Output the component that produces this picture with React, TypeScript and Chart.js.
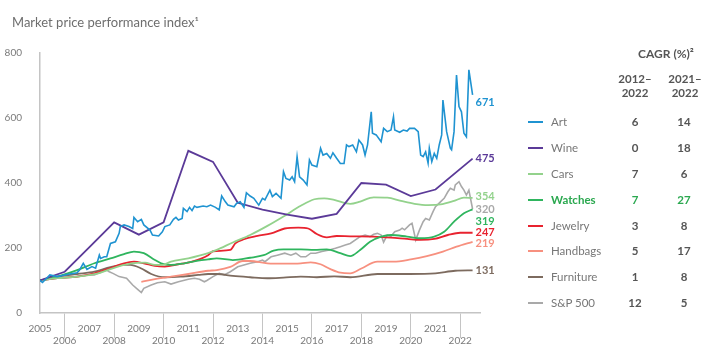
import React, { useEffect, useRef } from "react";
import { Chart, registerables } from "chart.js";

Chart.register(...registerables);

const FONT = "Lato, 'Open Sans', sans-serif";

// ---------- data ----------
const seriesNames = ["Art", "Wine", "Cars", "Watches", "Jewelry", "Handbags", "Furniture", "S&P 500"];
const seriesColors = ["#1f93d1", "#5b3a98", "#93d28c", "#2fb55e", "#e8232f", "#f7907f", "#7d6b5f", "#a9a9a9"];
const cagr2012to2022 = ["6", "0", "7", "7", "3", "5", "1", "12"];
const cagr2021to2022 = ["14", "18", "6", "27", "8", "17", "8", "5"];
const endLabels = ["671", "475", "354", "319", "247", "219", "131", "320"];
const highlighted = "Watches";

const yTickValues = [0, 200, 400, 600, 800];
const xTickYears = [2005, 2006, 2007, 2008, 2009, 2010, 2011, 2012, 2013, 2014, 2015, 2016, 2017, 2018, 2019, 2020, 2021, 2022];

const artYears = [2005.0, 2005.1, 2005.4, 2005.7, 2006.2, 2006.5, 2006.6, 2006.75, 2006.9, 2007.1, 2007.25, 2007.4, 2007.45, 2007.6, 2007.7, 2007.85, 2008.05, 2008.2, 2008.25, 2008.4, 2008.6, 2008.75, 2008.8, 2008.95, 2009.1, 2009.2, 2009.45, 2009.55, 2009.8, 2009.95, 2010.05, 2010.25, 2010.4, 2010.5, 2010.6, 2010.75, 2010.8, 2010.95, 2011.05, 2011.15, 2011.25, 2011.35, 2011.6, 2011.75, 2011.9, 2012.1, 2012.25, 2012.35, 2012.5, 2012.6, 2012.85, 2012.95, 2013.1, 2013.25, 2013.35, 2013.5, 2013.65, 2013.85, 2014.0, 2014.1, 2014.3, 2014.4, 2014.55, 2014.75, 2014.85, 2014.95, 2015.1, 2015.2, 2015.3, 2015.4, 2015.5, 2015.65, 2015.8, 2015.9, 2016.0, 2016.2, 2016.35, 2016.45, 2016.6, 2016.75, 2016.85, 2017.0, 2017.15, 2017.3, 2017.4, 2017.5, 2017.65, 2017.8, 2017.9, 2018.05, 2018.15, 2018.25, 2018.4, 2018.45, 2018.6, 2018.8, 2018.9, 2019.05, 2019.2, 2019.3, 2019.35, 2019.55, 2019.7, 2019.85, 2019.95, 2020.15, 2020.3, 2020.4, 2020.5, 2020.6, 2020.7, 2020.75, 2020.85, 2020.95, 2021.05, 2021.15, 2021.25, 2021.3, 2021.45, 2021.6, 2021.65, 2021.75, 2021.85, 2021.95, 2022.05, 2022.15, 2022.25, 2022.35, 2022.5];
const artValues = [100, 94, 117, 112, 120, 124, 132, 153, 134, 143, 138, 178, 168, 173, 173, 214, 219, 245, 266, 271, 266, 260, 294, 281, 288, 271, 255, 240, 237, 250, 266, 271, 288, 294, 286, 291, 322, 312, 325, 315, 329, 325, 329, 327, 332, 325, 317, 360, 342, 332, 327, 337, 342, 325, 370, 360, 353, 332, 353, 348, 378, 358, 368, 353, 435, 414, 409, 419, 404, 481, 419, 409, 394, 471, 455, 450, 507, 486, 491, 476, 493, 476, 460, 460, 517, 512, 517, 496, 532, 517, 486, 517, 619, 553, 548, 527, 568, 558, 563, 604, 563, 556, 563, 560, 568, 568, 558, 486, 481, 496, 461, 507, 466, 491, 476, 517, 548, 655, 558, 507, 502, 558, 732, 635, 619, 553, 542, 748, 671];

const wineYears = [2005, 2006, 2007, 2008, 2009, 2010, 2011, 2012, 2013, 2014, 2015, 2016, 2017, 2018, 2019, 2020, 2021, 2022.5];
const wineValues = [100, 127, 203, 279, 241, 279, 499, 465, 339, 318, 303, 290, 305, 400, 395, 360, 380, 475];

const carsYears = [2005, 2005.7, 2006.5, 2007.35, 2008.15, 2008.7, 2009.25, 2009.65, 2009.95, 2010.3, 2011, 2011.8, 2012.15, 2012.8, 2013.5, 2014.2, 2014.85, 2015.55, 2016.1, 2016.5, 2016.9, 2017.55, 2017.95, 2018.5, 2019.05, 2019.6, 2020.15, 2020.7, 2021.2, 2021.75, 2022.15, 2022.5];
const carsValues = [100, 107, 112, 122, 143, 153, 155, 148, 148, 158, 168, 184, 194, 217, 240, 268, 297, 330, 350, 353, 348, 336, 343, 356, 355, 345, 336, 332, 334, 345, 355, 354];

const watchesYears = [2005, 2005.7, 2006.5, 2007.2, 2007.85, 2008.4, 2008.8, 2009.2, 2009.65, 2009.9, 2010.3, 2010.85, 2011.4, 2011.8, 2012.15, 2012.8, 2013.5, 2014.05, 2014.45, 2014.85, 2015.55, 2016.1, 2016.6, 2017.15, 2017.55, 2017.95, 2018.35, 2018.8, 2019.2, 2019.85, 2020.4, 2020.95, 2021.35, 2021.75, 2022.15, 2022.5];
const watchesValues = [100, 112, 132, 153, 168, 181, 189, 184, 163, 153, 148, 153, 161, 165, 168, 163, 170, 178, 192, 196, 196, 194, 196, 184, 175, 194, 219, 235, 240, 235, 230, 235, 250, 281, 307, 319];

const jewelryYears = [2005, 2005.7, 2006.5, 2007.2, 2007.85, 2008.4, 2008.8, 2009.2, 2009.65, 2010.05, 2010.6, 2011.15, 2011.8, 2012.0, 2012.7, 2012.9, 2013.25, 2013.8, 2014.35, 2014.9, 2015.45, 2015.85, 2016.2, 2016.6, 2017.0, 2017.55, 2018.5, 2019.2, 2019.85, 2020.4, 2020.95, 2021.5, 2022.0, 2022.5];
const jewelryValues = [100, 107, 112, 122, 138, 153, 158, 153, 145, 143, 150, 158, 178, 190, 194, 214, 227, 237, 245, 260, 263, 260, 243, 233, 237, 236, 235, 232, 228, 225, 228, 240, 247, 247];

const handbagsYears = [2009.1, 2009.65, 2010.3, 2011, 2011.8, 2012.15, 2012.7, 2013.2, 2013.5, 2014.2, 2014.85, 2015.55, 2015.95, 2016.35, 2016.75, 2017.15, 2017.55, 2018.0, 2018.65, 2019.3, 2020.0, 2020.65, 2021.3, 2021.85, 2022.5];
const handbagsValues = [96, 104, 112, 120, 130, 132, 142, 160, 160, 153, 152, 153, 156, 150, 135, 124, 122, 137, 158, 158, 165, 175, 189, 204, 219];

const furnitureYears = [2005, 2005.7, 2006.5, 2007.2, 2007.85, 2008.4, 2008.65, 2009.1, 2009.5, 2010.05, 2010.7, 2011.4, 2011.8, 2012.15, 2012.8, 2013.5, 2014.2, 2014.85, 2015.55, 2016.2, 2016.9, 2017.55, 2018.65, 2019.95, 2021.0, 2021.8, 2022.5];
const furnitureValues = [100, 112, 120, 127, 141, 148, 148, 137, 120, 110, 112, 117, 120, 120, 114, 110, 107, 109, 112, 110, 113, 110, 120, 120, 122, 130, 131];

const spYears = [2005.0, 2005.4, 2005.7, 2006.1, 2006.5, 2006.9, 2007.2, 2007.45, 2007.7, 2007.8, 2007.95, 2008.2, 2008.5, 2008.75, 2008.95, 2009.1, 2009.2, 2009.5, 2009.75, 2010.05, 2010.3, 2010.6, 2011.0, 2011.25, 2011.45, 2011.65, 2011.75, 2012.0, 2012.25, 2012.45, 2012.7, 2013.0, 2013.25, 2013.5, 2013.8, 2014.0, 2014.1, 2014.35, 2014.6, 2014.9, 2015.15, 2015.35, 2015.55, 2015.75, 2015.95, 2016.15, 2016.4, 2016.7, 2016.95, 2017.15, 2017.35, 2017.55, 2017.95, 2018.15, 2018.35, 2018.5, 2018.65, 2018.8, 2018.9, 2019.05, 2019.2, 2019.35, 2019.55, 2019.65, 2019.75, 2019.95, 2020.05, 2020.2, 2020.35, 2020.5, 2020.6, 2020.75, 2020.9, 2021.0, 2021.2, 2021.35, 2021.5, 2021.6, 2021.75, 2021.8, 2021.95, 2022.05, 2022.15, 2022.25, 2022.35, 2022.5];
const spValues = [100, 104, 107, 110, 112, 116, 117, 125, 132, 127, 122, 112, 107, 86, 73, 63, 76, 86, 93, 96, 89, 96, 104, 107, 104, 96, 100, 112, 122, 117, 127, 142, 148, 153, 158, 163, 158, 173, 178, 184, 178, 184, 173, 173, 184, 184, 189, 194, 199, 204, 209, 214, 235, 240, 235, 242, 245, 240, 218, 240, 236, 250, 255, 261, 256, 271, 276, 225, 255, 281, 291, 286, 312, 327, 342, 353, 373, 384, 378, 394, 404, 389, 378, 363, 378, 320];

const seriesYears = [artYears, wineYears, carsYears, watchesYears, jewelryYears, handbagsYears, furnitureYears, spYears];
const seriesValues = [artValues, wineValues, carsValues, watchesValues, jewelryValues, handbagsValues, furnitureValues, spValues];

// ---------- styling (not data) ----------
const seriesSmooth = [false, false, true, true, true, true, true, false];
const seriesWidth = [1.6, 1.8, 1.8, 1.8, 1.8, 1.8, 1.8, 1.6];
const labelNudge = [8, 0, -1, 12, 0, 2, 0, 0];

const endLabelPlugin = {
  id: "endLabels",
  afterDatasetsDraw(chart: any) {
    const ctx = chart.ctx;
    chart.data.datasets.forEach((ds: any, i: number) => {
      const meta = chart.getDatasetMeta(i);
      const last = meta.data[meta.data.length - 1];
      if (!last) return;
      ctx.save();
      ctx.font = `bold 11px ${FONT}`;
      ctx.fillStyle = ds.borderColor;
      ctx.textAlign = "left";
      ctx.textBaseline = "middle";
      ctx.fillText(endLabels[i], last.x + 3, last.y + labelNudge[i]);
      ctx.restore();
    });
  },
};

export default function App() {
  const ref = useRef<HTMLCanvasElement | null>(null);

  useEffect(() => {
    if (!ref.current) return;
    const datasets = seriesNames.map((name, i) => ({
      label: name,
      data: seriesYears[i].map((x, j) => ({ x, y: seriesValues[i][j] })),
      borderColor: seriesColors[i],
      backgroundColor: seriesColors[i],
      borderWidth: seriesWidth[i],
      pointRadius: 0,
      fill: false,
      tension: seriesSmooth[i] ? 0.4 : 0,
      cubicInterpolationMode: seriesSmooth[i] ? ("monotone" as const) : ("default" as const),
      order: i,
    }));
    const chart = new Chart(ref.current, {
      type: "line",
      data: { datasets },
      plugins: [endLabelPlugin],
      options: {
        animation: false,
        responsive: false,
        layout: { padding: { left: 0, top: 53, right: 240, bottom: 0 } },
        plugins: { legend: { display: false }, tooltip: { enabled: false } },
        elements: { point: { radius: 0 } },
        scales: {
          x: {
            type: "linear",
            min: 2005,
            max: 2022.8,
            afterFit: (s: any) => {
              s.height = 48;
            },
            ticks: {
              stepSize: 1,
              autoSkip: false,
              maxRotation: 0,
              minRotation: 0,
              includeBounds: false,
              padding: -15,
              color: "#7a7a7a",
              font: { family: FONT, size: 10 },
              callback: (v: any) => {
                const yr = Math.round(Number(v));
                if (!xTickYears.includes(yr)) return "";
                return yr % 2 === 1 ? [String(yr), ""] : ["", String(yr)];
              },
            },
            grid: {
              drawOnChartArea: false,
              drawTicks: true,
              tickLength: 25,
              lineWidth: 1,
              color: (c: any) =>
                c.tick && Math.round(c.tick.value) % 2 === 0 ? "#c4c4c4" : "rgba(0,0,0,0)",
            },
            border: { display: true, color: "#c4c4c4", width: 1.5 },
          },
          y: {
            min: 0,
            max: 800,
            afterFit: (s: any) => {
              s.width = 40;
            },
            afterBuildTicks: (s: any) => {
              s.ticks = yTickValues.map((value) => ({ value }));
            },
            ticks: {
              padding: 10,
              color: "#7a7a7a",
              font: { family: FONT, size: 10 },
              callback: (v: any) => String(v),
            },
            grid: { display: false },
            border: { display: true, color: "#c4c4c4", width: 1.5 },
          },
        },
      },
    });
    return () => chart.destroy();
  }, []);

  const rowTop = 121.7;
  const rowStep = 25.95;

  return (
    <div
      style={{
        position: "absolute",
        left: 0,
        top: 0,
        width: 720,
        height: 361,
        background: "#fff",
        fontFamily: FONT,
        overflow: "hidden",
      }}
    >
      <canvas ref={ref} width={720} height={361} style={{ position: "absolute", left: 0, top: 0 }} />
      <div
        style={{
          position: "absolute",
          left: 12,
          top: 14,
          fontSize: 13,
          lineHeight: "16px",
          color: "#6e6e6e",
          whiteSpace: "nowrap",
        }}
      >
        Market price performance index¹
      </div>
      <div
        style={{
          position: "absolute",
          left: 606,
          top: 46,
          width: 120,
          textAlign: "center",
          fontSize: 12,
          lineHeight: "16px",
          fontWeight: 700,
          color: "#555",
        }}
      >
        CAGR (%)²
      </div>
      {[
        ["2012–", "2022", 635],
        ["2021–", "2022", 685],
      ].map(([a, b, cx]) => (
        <div
          key={String(a)}
          style={{
            position: "absolute",
            left: (cx as number) - 25,
            top: 72,
            width: 50,
            textAlign: "center",
            fontSize: 11.5,
            lineHeight: "13.5px",
            fontWeight: 700,
            color: "#555",
          }}
        >
          {a}
          <br />
          {b}
        </div>
      ))}
      {seriesNames.map((name, i) => {
        const cy = rowTop + i * rowStep;
        const hl = name === highlighted;
        const valColor = hl ? "#2aa84f" : "#555";
        return (
          <React.Fragment key={name}>
            <div
              style={{
                position: "absolute",
                left: 528,
                top: cy - 1,
                width: 15,
                height: 2,
                background: seriesColors[i],
              }}
            />
            <div
              style={{
                position: "absolute",
                left: 551,
                top: cy - 7,
                fontSize: 11.5,
                lineHeight: "14px",
                color: hl ? "#2aa84f" : "#777",
                fontWeight: hl ? 700 : 400,
                whiteSpace: "nowrap",
              }}
            >
              {name}
            </div>
            <div
              style={{
                position: "absolute",
                left: 615,
                top: cy - 7,
                width: 40,
                textAlign: "center",
                fontSize: 11.5,
                lineHeight: "14px",
                fontWeight: 700,
                color: valColor,
              }}
            >
              {cagr2012to2022[i]}
            </div>
            <div
              style={{
                position: "absolute",
                left: 664,
                top: cy - 7,
                width: 40,
                textAlign: "center",
                fontSize: 11.5,
                lineHeight: "14px",
                fontWeight: 700,
                color: valColor,
              }}
            >
              {cagr2021to2022[i]}
            </div>
          </React.Fragment>
        );
      })}
    </div>
  );
}
